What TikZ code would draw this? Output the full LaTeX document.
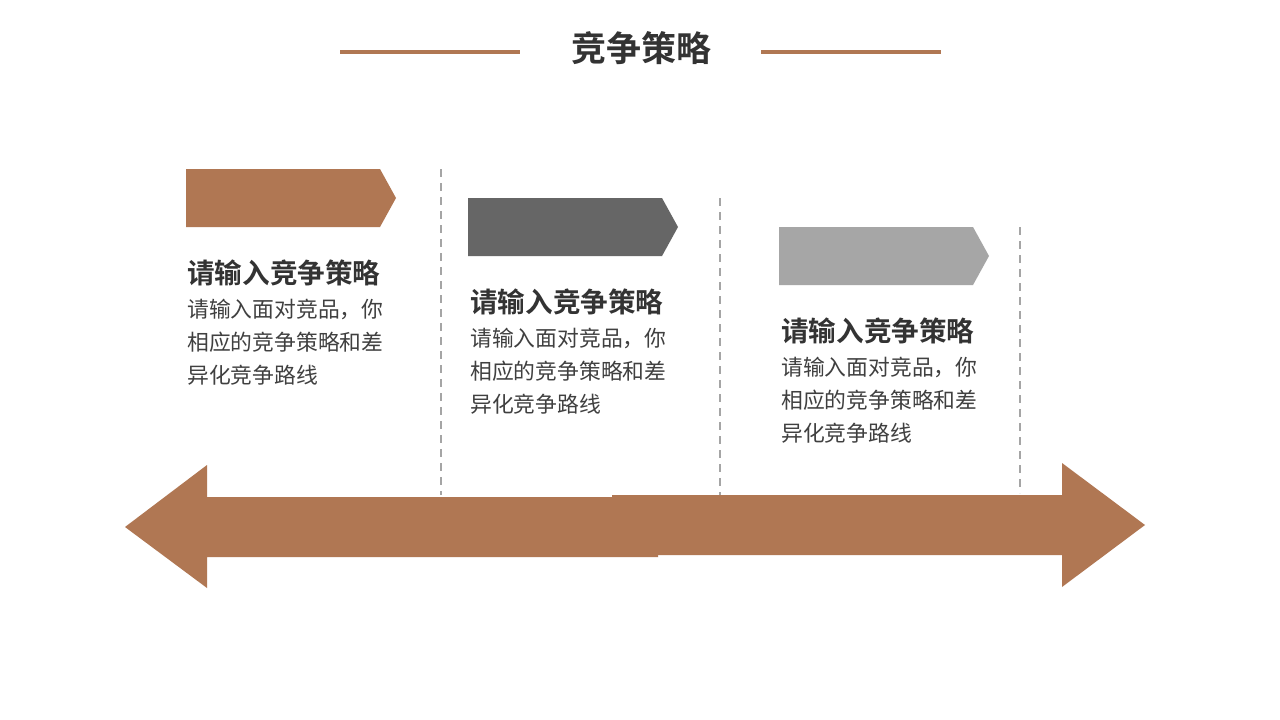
\documentclass[tikz,border=0pt]{standalone}
\usepackage{fontspec}
\setmainfont{Noto Sans CJK SC}[BoldFont={Noto Sans CJK SC Bold}]
\usetikzlibrary{positioning}
\definecolor{copper}{RGB}{176,119,83}
\definecolor{darkgrey}{RGB}{102,102,102}
\definecolor{lightgrey}{RGB}{166,166,166}
\definecolor{dashgrey}{RGB}{165,165,165}
\definecolor{headtext}{RGB}{51,51,51}
\definecolor{bodytext}{RGB}{64,64,64}

\tikzset{
	title/.style={inner sep=0pt, font=\bfseries\fontsize{35}{40}\selectfont, text=headtext},
	titleline/.style={copper, line width=4pt},
	heading/.style={anchor=west, inner sep=0pt, font=\bfseries\fontsize{27.6}{30}\selectfont, text=headtext},
	bodyblock/.style={anchor=north west, inner sep=0pt, align=left, font=\fontsize{21.8}{33}\selectfont, text=bodytext},
	divider/.style={dashgrey, line width=1.5pt, dash pattern=on 8pt off 6pt},
}

\begin{document}
\begin{tikzpicture}[x=1pt, y=-1pt]
	 \useasboundingbox[fill=white] (0,0) rectangle (1280,720);
	 
	 %Title
	 \node[title] (title) at (641,48) {竞争策略};
	 \draw[titleline] (340,52) -- (520,52);
	 \draw[titleline] (761,52) -- (941,52);
	 
	 %Dividers
	 \draw[divider] (441,169) -- (441,495);
	 \draw[divider] (720,198) -- (720,495);
	 \draw[divider] (1020,227) -- (1020,493);
	 
	 %Tags
	 \fill[copper] (186,169) -- (380,169) -- (396,198) -- (380,227) -- (186,227) -- cycle;
	 \fill[darkgrey] (468,198) -- (662,198) -- (678,227) -- (662,256) -- (468,256) -- cycle;
	 \fill[lightgrey] (779,227) -- (973,227) -- (989,256) -- (973,285) -- (779,285) -- cycle;
	 
	 %Element 1
	 \node[heading] (head1) at (187,273) {请输入竞争策略};
	 \node[bodyblock] (body1) at (187,299) {请输入面对竞品，你\\相应的竞争策略和差\\异化竞争路线};
	 
	 %Element 2
	 \node[heading] (head2) at (470,302) {请输入竞争策略};
	 \node[bodyblock] (body2) at (470,328) {请输入面对竞品，你\\相应的竞争策略和差\\异化竞争路线};
	 
	 %Element 3
	 \node[heading] (head3) at (781,331) {请输入竞争策略};
	 \node[bodyblock] (body3) at (781,357) {请输入面对竞品，你\\相应的竞争策略和差\\异化竞争路线};
	 
	 %Double arrow
	 \fill[copper] (125,527) -- (207,465) -- (207,497) -- (658,497) -- (658,557) -- (207,557) -- (207,588) -- cycle;
	 \fill[copper] (1145,525) -- (1062,463) -- (1062,495) -- (612,495) -- (612,555) -- (1062,555) -- (1062,587) -- cycle;
\end{tikzpicture}
\end{document}
